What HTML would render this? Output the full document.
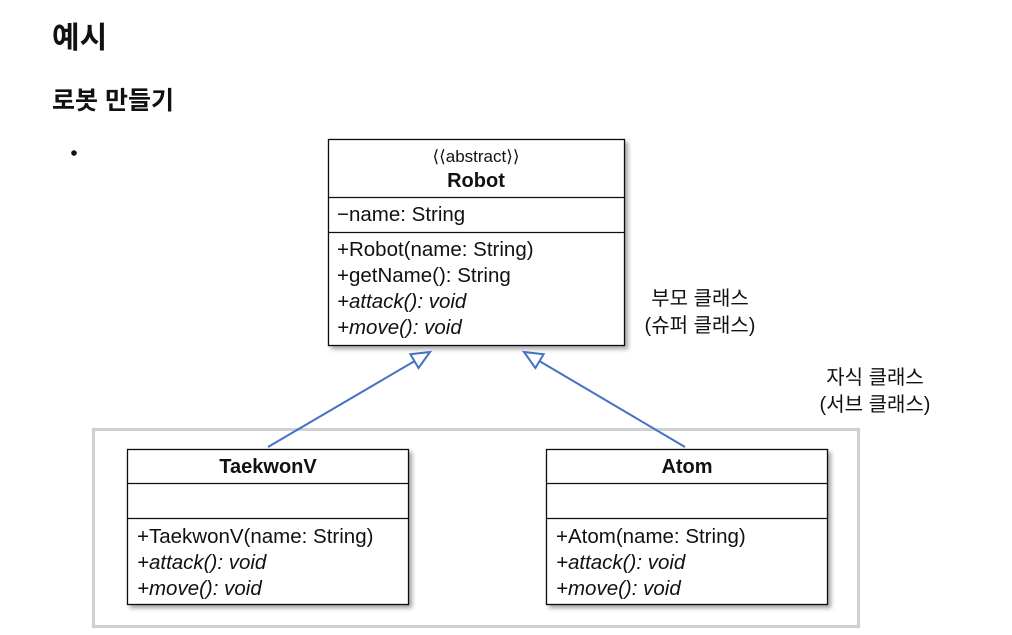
<!DOCTYPE html>
<html><head><meta charset="utf-8"><style>
html,body{margin:0;padding:0;background:#fff;width:1012px;height:635px;overflow:hidden}
svg{display:block}
text{font-family:"Liberation Sans","Noto Sans CJK KR",sans-serif;fill:#111}
</style></head><body>
<svg width="1012" height="635" viewBox="0 0 1012 635">
<defs><filter id="sh" x="-5%" y="-5%" width="115%" height="115%"><feDropShadow dx="3" dy="3" stdDeviation="2" flood-color="#000" flood-opacity="0.35"/></filter></defs>
<text x="52" y="48" font-size="30" font-weight="bold">예시</text>
<text x="52" y="109" font-size="25" font-weight="bold">로봇 만들기</text>
<circle cx="74" cy="153" r="2.8" fill="#111"/>
<rect x="93.5" y="429.5" width="765" height="197" fill="none" stroke="#d0d0d0" stroke-width="3"/>
<!-- Robot -->
<rect x="328.5" y="139.5" width="296" height="206" fill="#fff" stroke="#111" stroke-width="1.3" filter="url(#sh)"/>
<line x1="328" y1="197.5" x2="625" y2="197.5" stroke="#111" stroke-width="1.3"/>
<line x1="328" y1="232.5" x2="625" y2="232.5" stroke="#111" stroke-width="1.3"/>
<text x="476" y="162" font-size="17" text-anchor="middle">⟨⟨abstract⟩⟩</text>
<text x="476" y="187" font-size="20" font-weight="bold" text-anchor="middle">Robot</text>
<text x="337" y="221" font-size="20.5">−name: String</text>
<text x="337" y="256" font-size="20.5">+Robot(name: String)</text>
<text x="337" y="282" font-size="20.5">+getName(): String</text>
<text x="337" y="308" font-size="20.5" font-style="italic">+attack(): void</text>
<text x="337" y="334" font-size="20.5" font-style="italic">+move(): void</text>
<!-- TaekwonV -->
<rect x="127.5" y="449.5" width="281" height="155" fill="#fff" stroke="#111" stroke-width="1.3" filter="url(#sh)"/>
<line x1="127" y1="483.5" x2="409" y2="483.5" stroke="#111" stroke-width="1.3"/>
<line x1="127" y1="518.5" x2="409" y2="518.5" stroke="#111" stroke-width="1.3"/>
<text x="268" y="473" font-size="20" font-weight="bold" text-anchor="middle">TaekwonV</text>
<text x="137" y="543" font-size="20.5">+TaekwonV(name: String)</text>
<text x="137" y="569" font-size="20.5" font-style="italic">+attack(): void</text>
<text x="137" y="595" font-size="20.5" font-style="italic">+move(): void</text>
<!-- Atom -->
<rect x="546.5" y="449.5" width="281" height="155" fill="#fff" stroke="#111" stroke-width="1.3" filter="url(#sh)"/>
<line x1="546" y1="483.5" x2="828" y2="483.5" stroke="#111" stroke-width="1.3"/>
<line x1="546" y1="518.5" x2="828" y2="518.5" stroke="#111" stroke-width="1.3"/>
<text x="687" y="473" font-size="20" font-weight="bold" text-anchor="middle">Atom</text>
<text x="556" y="543" font-size="20.5">+Atom(name: String)</text>
<text x="556" y="569" font-size="20.5" font-style="italic">+attack(): void</text>
<text x="556" y="595" font-size="20.5" font-style="italic">+move(): void</text>
<!-- arrows -->
<g stroke="#4472c4" stroke-width="2" fill="#fff">
<line x1="268" y1="447" x2="414.5" y2="361.1"/>
<polygon points="430,352 418.5,368 410.4,354.2"/>
<line x1="685" y1="447" x2="539.5" y2="361.1"/>
<polygon points="524,352 543.6,354.2 535.4,368"/>
</g>
<text x="700" y="305" font-size="20" text-anchor="middle">부모 클래스</text>
<text x="700" y="332" font-size="20" text-anchor="middle">(슈퍼 클래스)</text>
<text x="875" y="384" font-size="20" text-anchor="middle">자식 클래스</text>
<text x="875" y="411" font-size="20" text-anchor="middle">(서브 클래스)</text>
</svg>
</body></html>
